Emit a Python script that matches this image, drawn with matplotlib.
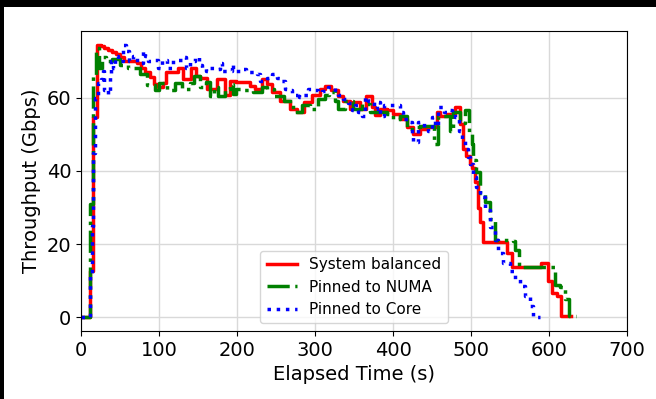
import matplotlib

matplotlib.use('Agg')
import matplotlib.pyplot as plt
from matplotlib.patches import Rectangle

# System balanced (step data)
red_t = [0, 11, 16, 20, 25, 30, 35, 40, 45, 50, 55, 65, 72, 77, 82, 88, 94, 99, 105, 109,
         124, 131, 141, 147, 152, 161, 174, 185, 191, 199, 217, 223, 232, 238, 245, 255, 268,
         277, 286, 296, 306, 313, 321, 330, 336, 345, 349, 358, 366, 373, 377, 383, 392, 400,
         409, 418, 426, 435, 443, 456, 460, 469, 480, 486, 490, 494, 499, 501, 505, 509, 512,
         515, 546, 552, 590, 599, 604, 610, 616, 628]
red_v = [0, 12.6, 54.6, 74.4, 74, 73.5, 73, 72.5, 72, 71, 70, 70, 69.5, 68, 67, 65.6, 63.7,
         62.8, 64, 67, 68, 65, 68.2, 66, 65.5, 62.4, 65.1, 60.6, 64.6, 64.2, 63.3, 62.4, 65.1,
         63.7, 61.5, 59.2, 57, 56, 58.7, 60.6, 62.4, 63.3, 62, 60.5, 59.2, 57, 58.7, 57, 60.5,
         57.4, 55.2, 57, 56.5, 55.6, 54.2, 52, 50.2, 51.5, 52, 56, 55, 55.6, 57.4, 52.9, 46,
         44, 42, 40.9, 37, 30, 26, 20.7, 17.5, 13.9, 14.8, 10, 6.7, 5.8, 0.4, 0.4]

# Pinned to NUMA
green_t = [0, 11, 16, 19, 23, 27, 32, 40, 50, 60, 75, 85, 95, 100, 110, 120, 130, 140, 145,
           152, 160, 165, 170, 176, 185, 191, 195, 199, 208, 221, 232, 238, 247, 260, 272,
           283, 294, 304, 313, 318, 325, 330, 338, 349, 360, 371, 392, 400, 409, 418, 428,
           435, 452, 458, 473, 477, 486, 492, 497, 501, 503, 507, 511, 518, 524, 531, 554,
           557, 561, 606, 608, 614, 620, 625, 634]
green_v = [0, 31, 66, 73.5, 68, 71, 70, 70.5, 69, 68, 66.5, 63.5, 62, 64, 62, 64, 62.5, 64,
           66, 63, 64.2, 60.5, 63, 60.5, 62.4, 63.7, 61, 62.4, 62, 61.5, 62.8, 62.4, 60.5,
           59.2, 56, 57.9, 57, 59.7, 60.6, 61.5, 59, 57, 59.2, 57, 58.3, 56, 55.6, 54.2, 55,
           51.5, 52, 52.4, 47.4, 55, 51, 56, 53, 56.5, 50.6, 47.4, 43, 39.6, 34, 31.6, 27,
           21.2, 21, 18.3, 13.8, 13.8, 8.9, 8.4, 5, 0.5, 0.5]

# Pinned to Core
blue_t = [0, 11, 12, 14, 16, 18, 22, 26, 28, 30, 32, 35, 37, 38, 41, 43, 47, 51, 54, 58, 62,
          67, 72, 79, 82, 86, 92, 99, 104, 110, 118, 130, 135, 140, 146, 151, 155, 160, 165,
          171, 178, 181, 193, 195, 206, 212, 225, 230, 238, 245, 251, 255, 261, 265, 270,
          274, 278, 280, 285, 291, 299, 304, 309, 317, 326, 330, 336, 342, 347, 351, 355,
          360, 364, 368, 375, 379, 383, 388, 398, 409, 413, 420, 424, 426, 432, 440, 445,
          450, 454, 458, 465, 471, 476, 480, 484, 488, 492, 496, 499, 503, 507, 512, 518,
          524, 531, 535, 541, 550, 556, 563, 569, 576, 580, 589]
blue_v = [0, 0, 12, 25, 45, 60, 64, 65, 67.3, 62, 62.4, 61, 66.4, 70, 68, 71.4, 70, 70, 74.3,
          72.8, 70, 71.4, 69.5, 72.8, 71.4, 70, 70.3, 68.2, 70.3, 68.2, 70.3, 71, 68.2, 70,
          71, 69, 68.2, 67.3, 68.2, 67.7, 69.6, 67.3, 69.1, 67.3, 67.7, 66.9, 66.4, 64.6,
          65.5, 66.4, 65.5, 64.6, 62.4, 62, 61, 60.6, 61.5, 60.1, 60.6, 62.4, 62, 61.5, 61.9,
          62.8, 61, 60.6, 59.6, 58.5, 56.5, 58, 56, 55.1, 60.1, 59.2, 57, 58.7, 55.1, 58, 58,
          56, 54.2, 53.3, 49.7, 47.9, 53.3, 52, 51, 54.6, 52.4, 57.4, 56, 56.5, 55.6, 54.7,
          51, 48.8, 46, 43.8, 42, 38.4, 35.6, 33, 29.3, 24.8, 21.2, 17.6, 14.8, 12.7, 10.4,
          8.6, 5.8, 3.1, 0, 0]

x_ticks = [0, 100, 200, 300, 400, 500, 600, 700]
y_ticks = [0, 20, 40, 60]

fig = plt.figure(figsize=(6.56, 3.99), dpi=100, facecolor='black')
# white canvas with the thin black strip at top and left of the reference
fig.patches.append(Rectangle((4 / 656, 0), 1, 1 - 7 / 399, transform=fig.transFigure,
                             facecolor='white', edgecolor='none', zorder=-10))
ax = fig.add_axes([81 / 656, 1 - 331 / 399, 546 / 656, 300 / 399])

ax.plot(red_t, red_v, drawstyle='steps-post', color='red', lw=2.5, ls='-',
        label='System balanced')
ax.plot(green_t, green_v, drawstyle='steps-post', color='green', lw=2.5, ls='-.',
        label='Pinned to NUMA')
ax.plot(blue_t, blue_v, drawstyle='steps-post', color='blue', lw=2.5, ls=':',
        label='Pinned to Core')

ax.set_xlim(0, 700)
ax.set_ylim(-3.7, 78.2)
ax.set_xticks(x_ticks)
ax.set_yticks(y_ticks)
ax.tick_params(labelsize=14)
ax.grid(True, color='#d9d9d9', lw=1)
ax.set_axisbelow(True)
ax.set_xlabel('Elapsed Time (s)', fontsize=14)
ax.set_ylabel('Throughput (Gbps)', fontsize=14)
ax.legend(loc='lower center', fontsize=11)

fig.savefig('out.png', dpi=100, facecolor=fig.get_facecolor())
plt.close()
